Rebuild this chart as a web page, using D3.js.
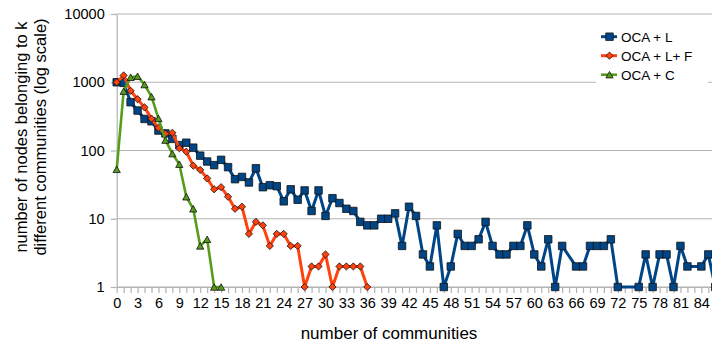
<!DOCTYPE html>
<html>
<head>
<meta charset="utf-8">
<script src="https://cdn.jsdelivr.net/npm/d3@7"></script>
<style>
  html, body { margin: 0; padding: 0; background: #fff; }
  svg { display: block; font-family: "Liberation Sans", Arial, sans-serif; }
</style>
</head>
<body>
<svg id="chart" width="712" height="345"></svg>
<script>
// ---- data ----
const categories = d3.range(0, 87); // k = 0..86
const seriesNames = ["OCA + L", "OCA + L+ F", "OCA + C"];
const ocaL = [1000, 980, 510, 385, 290, 268, 196, 178, 148, 120,
              130, 110, 84, 69, 61, 73, 57, 38, 41, 34,
              55, 29, 31, 30, 18, 27, 19, 26, 13, 26,
              11, 20, 17, 14, 13, 9, 8, 8, 10, 10,
              12, 4, 15, 11, 3, 2, 8, 1, 2, 6,
              4, 4, 5, 9, 4, 3, 3, 4, 4, 8,
              3, 2, 5, 1, 4, null, 2, 2, 4, 4,
              4, 5, 1, null, null, 1, 3, 1, 3, 3,
              1, 4, 2, null, 2, 3, 1];
const ocaLF = [1000, 1260, 750, 565, 428, 293, 215, 176, 182, 108,
               96, 60, 52, 39, 27, 29, 21, 14, 15, 6,
               9, 8, 4, 6, 6, 4, 4, 1, 2, 2,
               3, 1, 2, 2, 2, 2, 1];
const ocaC = [53, 740, 1185, 1225, 925, 615, 295, 142, 90, 63,
              21, 14, 4, 5, 1, 1];
const yTickValues = [1, 10, 100, 1000, 10000];
const xTickLabels = ["0","3","6","9","12","15","18","21","24","27","30","33","36","39","42",
                     "45","48","51","54","57","60","63","66","69","72","75","78","81","84"];
const xTitle = "number of communities";
const yTitleLines = ["number of nodes belonging to k", "different communities (log scale)"];

// ---- layout ----
const svg = d3.select("#chart");
const plotLeft = 116.7, plotTop = 14, plotBottom = 287, unit = 6.96;
const x = d3.scaleLinear().domain([0, 86]).range([plotLeft, plotLeft + 86 * unit]);
const y = d3.scaleLog().domain([1, 10000]).range([plotBottom, plotTop]);

const gridColor = "#b3b3b3";
const colors = ["#004586", "#ff420e", "#579d1c"];

// gridlines
svg.append("g").selectAll("line").data(yTickValues).join("line")
  .attr("x1", plotLeft).attr("x2", 712)
  .attr("y1", d => y(d)).attr("y2", d => y(d))
  .attr("stroke", gridColor).attr("stroke-width", 1.2);

// y axis
const yAxis = svg.append("g").attr("transform", `translate(${plotLeft},0)`)
  .call(d3.axisLeft(y).tickValues(yTickValues).tickFormat(d3.format("d")).tickSize(6).tickSizeOuter(0).tickPadding(6));
yAxis.select(".domain").attr("stroke", gridColor).attr("stroke-width", 1.2);
yAxis.selectAll(".tick line").attr("stroke", gridColor).attr("stroke-width", 1.2);
yAxis.selectAll(".tick text").attr("fill", "#000").style("font-size", "14.5px")
  .style("font-family", '"Liberation Sans", Arial, sans-serif');

// x axis
const xAxis = svg.append("g").attr("transform", `translate(0,${plotBottom})`)
  .call(d3.axisBottom(x).tickValues(categories.filter(k => k <= 85))
    .tickFormat(k => xTickLabels.includes(String(k)) ? String(k) : "")
    .tickSize(6).tickSizeOuter(0).tickPadding(5));
xAxis.select(".domain").attr("stroke", gridColor).attr("stroke-width", 1.2);
xAxis.selectAll(".tick line").attr("stroke", gridColor).attr("stroke-width", 1.2);
xAxis.selectAll(".tick text").attr("fill", "#000").style("font-size", "14.5px")
  .style("font-family", '"Liberation Sans", Arial, sans-serif');

// titles
svg.append("text").attr("x", 389).attr("y", 339).attr("text-anchor", "middle")
  .style("font-size", "17px").text(xTitle);
const yt = svg.append("text").attr("transform", "translate(27,137) rotate(-90)")
  .attr("text-anchor", "middle").style("font-size", "16.5px");
yTitleLines.forEach((t, i) => yt.append("tspan").attr("x", 0).attr("dy", i === 0 ? 0 : 19).text(t));

// symbols
const diamond = {
  draw(ctx, size) {
    const r = Math.sqrt(size / 2);
    ctx.moveTo(0, -r); ctx.lineTo(r, 0); ctx.lineTo(0, r); ctx.lineTo(-r, 0); ctx.closePath();
  }
};
const triangle = {
  draw(ctx, size) {
    const s = Math.sqrt(size), h = s * 0.9;
    ctx.moveTo(0, -h / 2); ctx.lineTo(s / 2, h / 2); ctx.lineTo(-s / 2, h / 2); ctx.closePath();
  }
};
const symbols = [
  d3.symbol(d3.symbolSquare, 56),
  d3.symbol(diamond, 26),
  d3.symbol(triangle, 52)
];
const lineWidths = [3, 3, 2.6];
const allSeries = [ocaL, ocaLF, ocaC];

const line = d3.line().x(d => x(d.k)).y(d => y(d.v));
allSeries.forEach((vals, i) => {
  const pts = vals.map((v, k) => ({k: categories[k], v})).filter(d => d.v != null);
  const g = svg.append("g");
  g.append("path").datum(pts).attr("d", line)
    .attr("fill", "none").attr("stroke", colors[i]).attr("stroke-width", lineWidths[i])
    .attr("stroke-linejoin", "round");
  g.selectAll("path.m").data(pts).join("path").attr("class", "m")
    .attr("transform", d => `translate(${x(d.k)},${y(d.v)})`)
    .attr("d", symbols[i]())
    .attr("fill", colors[i]).attr("stroke", "#111").attr("stroke-width", 0.8);
});

// legend
const lg = svg.append("g");
lg.append("rect").attr("x", 596).attr("y", 26).attr("width", 112).attr("height", 60).attr("fill", "#fff");
seriesNames.forEach((name, i) => {
  const cy = 36.7 + i * 19;
  lg.append("line").attr("x1", 601).attr("x2", 617).attr("y1", cy).attr("y2", cy)
    .attr("stroke", colors[i]).attr("stroke-width", lineWidths[i]);
  lg.append("path").attr("transform", `translate(609.5,${cy})`).attr("d", symbols[i]())
    .attr("fill", colors[i]).attr("stroke", "#111").attr("stroke-width", 0.8);
  lg.append("text").attr("x", 621).attr("y", cy).attr("dy", "0.36em")
    .style("font-size", "13.5px").text(name);
});
</script>
</body>
</html>
